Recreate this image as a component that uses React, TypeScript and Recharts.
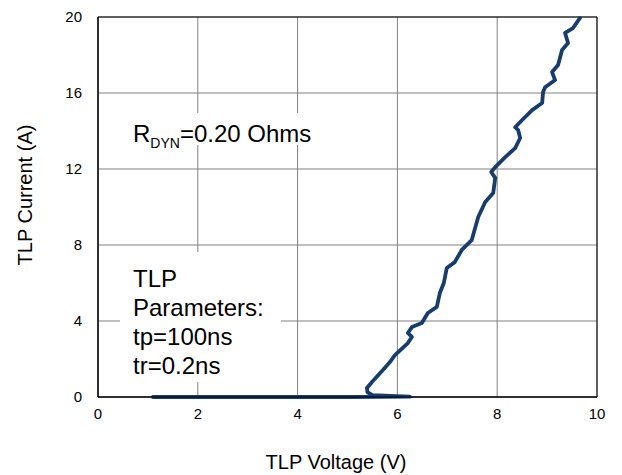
import React from "react";
import { LineChart, Line, XAxis, YAxis, CartesianGrid, ReferenceArea, Label } from "recharts";

const VOLTAGE = [
  1.1, 3.0, 5.0, 6.25, 5.5, 5.4, 5.39, 5.49, 5.71, 5.85, 5.95, 6.21, 6.29, 6.21, 6.29, 6.49, 6.61, 6.79,
  6.85, 6.93, 6.99, 7.15, 7.29, 7.49, 7.62, 7.76, 7.92, 7.96, 7.88, 7.96, 8.15, 8.36, 8.46, 8.42, 8.36,
  8.5, 8.7, 8.9, 8.92, 8.96, 9.16, 9.1, 9.22, 9.3, 9.42, 9.36, 9.52, 9.66,
];
const CURRENT = [
  0, 0, 0, 0.02, 0.1, 0.25, 0.47, 0.79, 1.42, 1.84, 2.2, 2.84, 3.16, 3.37, 3.68, 3.89, 4.42, 4.74,
  5.47, 6.0, 6.79, 7.1, 7.74, 8.26, 9.47, 10.26, 10.74, 11.53, 11.84, 12.1, 12.6, 13.1, 13.63, 14.05, 14.2,
  14.58, 15.1, 15.47, 16.05, 16.3, 16.68, 17.1, 17.47, 18.26, 18.63, 19.16, 19.42, 19.95,
];
const X_TICKS = [0, 2, 4, 6, 8, 10];
const Y_TICKS = [0, 4, 8, 12, 16, 20];

const data = VOLTAGE.map((v, i) => ({ v, i: CURRENT[i] }));

const FONT = "'Liberation Sans', Arial, sans-serif";

export default function App() {
  return (
    <div style={{ position: "absolute", left: 0, top: 0, width: 622, height: 475, background: "#fff", fontFamily: FONT }}>
      <LineChart width={622} height={475} data={data} margin={{ top: 17, right: 25, bottom: 18, left: 38 }}>
        <CartesianGrid stroke="#808080" strokeWidth={1} />
        <XAxis
          dataKey="v"
          type="number"
          domain={[0, 10]}
          ticks={X_TICKS}
          height={60}
          tickLine={false}
          tickSize={0}
          tickMargin={11}
          axisLine={{ stroke: "#000" }}
          tick={{ fill: "#000", fontSize: 15, fontFamily: FONT }}
        >
          <Label
            content={() => (
              <text x={336} y={469} textAnchor="middle" fontSize={20} fontFamily={FONT} fill="#000">
                TLP Voltage (V)
              </text>
            )}
          />
        </XAxis>
        <YAxis
          type="number"
          domain={[0, 20]}
          ticks={Y_TICKS}
          width={60}
          tickLine={false}
          tickSize={0}
          tickMargin={16}
          axisLine={{ stroke: "#000" }}
          tick={{ fill: "#000", fontSize: 15, fontFamily: FONT }}
        >
          <Label
            content={() => (
              <text
                x={32}
                y={195}
                textAnchor="middle"
                fontSize={20}
                fontFamily={FONT}
                fill="#000"
                transform="rotate(-90 32 195)"
              >
                TLP Current (A)
              </text>
            )}
          />
        </YAxis>
        <ReferenceArea x1={0} x2={10} y1={0} y2={20} fill="none" stroke="#000" strokeWidth={1} ifOverflow="visible" />
        <Line
          dataKey="i"
          stroke="#163d6d"
          strokeWidth={3.8}
          strokeLinejoin="round"
          strokeLinecap="round"
          dot={false}
          isAnimationActive={false}
        />
      </LineChart>

      {/* annotation boxes sit on top of the grid */}
      <div
        style={{
          position: "absolute",
          left: 128,
          top: 113,
          width: 190,
          height: 32,
          background: "#fff",
        }}
      />
      <div style={{ position: "absolute", left: 133, top: 122, fontSize: 24, lineHeight: "24px", whiteSpace: "nowrap" }}>
        R<span style={{ fontSize: 14, position: "relative", top: 6 }}>DYN</span>=0.20 Ohms
      </div>
      <div
        style={{
          position: "absolute",
          left: 120,
          top: 252,
          width: 161,
          height: 130,
          background: "#fff",
          boxSizing: "border-box",
          padding: "12px 0 0 13px",
          fontSize: 24,
          lineHeight: "29px",
          whiteSpace: "nowrap",
        }}
      >
        TLP
        <br />
        Parameters:
        <br />
        tp=100ns
        <br />
        tr=0.2ns
      </div>
    </div>
  );
}
